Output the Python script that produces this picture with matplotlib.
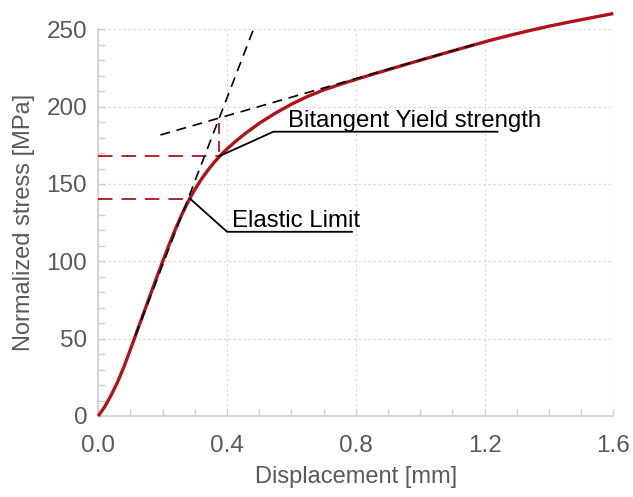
import numpy as np
import matplotlib
matplotlib.use("Agg")
import matplotlib.pyplot as plt
from matplotlib.ticker import MultipleLocator, FormatStrFormatter

plt.rcParams['font.family'] = ['Liberation Sans', 'DejaVu Sans']

# stress-displacement curve (normalized)
disp = [0, 0.02, 0.04, 0.06, 0.08, 0.10, 0.12, 0.14, 0.16, 0.18,
        0.20, 0.22, 0.24, 0.26, 0.28, 0.30, 0.32, 0.34, 0.36, 0.38,
        0.40, 0.43, 0.46, 0.50, 0.55, 0.60, 0.65, 0.70, 0.75, 0.80,
        0.86, 0.92, 0.98, 1.04, 1.10, 1.16, 1.22, 1.28, 1.34, 1.40,
        1.46, 1.52, 1.56, 1.60]
stress = [0, 6, 13.5, 22, 32, 43.2, 54.6, 66, 77.4, 88.8,
          100, 110.8, 121, 130.5, 139, 146.5, 153, 158.8, 164, 168.6,
          172.7, 178.2, 183.2, 189.2, 195.8, 201.6, 206.6, 210.8, 214.3, 217.6,
          221.4, 225.1, 228.8, 232.4, 236.0, 239.5, 243.0, 246.2, 249.2, 252.0,
          254.6, 257.0, 258.6, 260.2]

# tangent construction lines
elastic_x = [0.115, 0.482]
elastic_y = [52, 250]
plastic_x = [0.193, 1.18]
plastic_y = [181.7, 240.9]

# characteristic points
elastic_limit = (0.285, 140.5)
yield_pt = (0.376, 168)
tangent_cross = (0.376, 192.6)

# label leaders: point -> elbow -> end of underline
bitangent_leader_x = [yield_pt[0], 0.544, 1.24]
bitangent_leader_y = [yield_pt[1], 183.8, 183.8]
elastic_leader_x = [elastic_limit[0], 0.40, 0.788]
elastic_leader_y = [elastic_limit[1], 119.1, 119.1]

fig = plt.figure(figsize=(6.33, 4.97), dpi=100)
ax = fig.add_axes([0.1553, 0.163, 0.8136, 0.778])

grey_txt = '#595959'
grey_ax = '#cfcfcf'
red = '#b0141a'

ax.set_xlim(0, 1.6)
ax.set_ylim(0, 250)
ax.xaxis.set_major_locator(MultipleLocator(0.4))
ax.xaxis.set_minor_locator(MultipleLocator(0.1))
ax.yaxis.set_major_locator(MultipleLocator(50))
ax.yaxis.set_minor_locator(MultipleLocator(10))
ax.xaxis.set_major_formatter(FormatStrFormatter('%.1f'))

ax.grid(True, which='major', color='#d9d9d9', linestyle=(0, (2, 2)), linewidth=0.9)
ax.set_axisbelow(True)

for s in ['top', 'right']:
    ax.spines[s].set_visible(False)
for s in ['left', 'bottom']:
    ax.spines[s].set_color(grey_ax)
    ax.spines[s].set_linewidth(1.2)

ax.tick_params(which='both', direction='in', color=grey_ax, width=1.0)
ax.tick_params(which='major', length=5, labelsize=17.5, labelcolor=grey_txt)
ax.tick_params(which='minor', length=5)
ax.tick_params(axis='x', which='major', pad=14)
ax.tick_params(axis='y', which='major', pad=8)

# red dashed guides to the stress axis
ax.plot([0, elastic_limit[0]], [elastic_limit[1], elastic_limit[1]],
        color=red, lw=1.3, dashes=(8, 5), zorder=3)
ax.plot([0, yield_pt[0]], [yield_pt[1], yield_pt[1]],
        color=red, lw=1.3, dashes=(8, 5), zorder=3)
ax.plot([tangent_cross[0], yield_pt[0]], [tangent_cross[1] - 3, yield_pt[1]],
        color=red, lw=1.3, dashes=(6, 4), zorder=3)

# main curve
ax.plot(disp, stress, color=red, lw=2.4, solid_capstyle='butt',
        solid_joinstyle='round', clip_on=False, zorder=4)

# tangent lines
ax.plot(elastic_x, elastic_y, color='black', lw=1.2, dashes=(6, 4), zorder=5)
ax.plot(plastic_x, plastic_y, color='black', lw=1.2, dashes=(6, 4), zorder=5)

# leaders and labels
ax.plot(bitangent_leader_x, bitangent_leader_y, color='black', lw=1.3, zorder=5)
ax.plot(elastic_leader_x, elastic_leader_y, color='black', lw=1.3, zorder=5)
ax.text(0.588, 186.6, 'Bitangent Yield strength', fontsize=17.3, color='black',
        va='baseline', ha='left')
ax.text(0.415, 122.4, 'Elastic Limit', fontsize=17.3, color='black',
        va='baseline', ha='left')

ax.set_xlabel('Displacement [mm]', fontsize=17, color=grey_txt, labelpad=6)
ax.set_ylabel('Normalized stress [MPa]', fontsize=17, color=grey_txt, labelpad=8)

fig.savefig('out.png', dpi=100)
